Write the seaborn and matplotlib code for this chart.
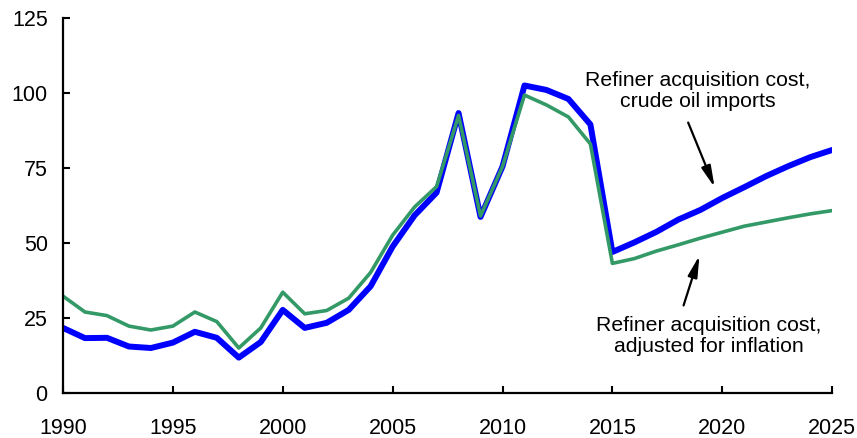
import matplotlib
matplotlib.use("Agg")
import matplotlib.pyplot as plt
import seaborn as sns
import pandas as pd

# Data
years = list(range(1990, 2026))
nominal = [21.7, 18.3, 18.4, 15.5, 15.0, 16.8, 20.4, 18.4, 11.8, 17.0,
           27.7, 21.7, 23.4, 27.7, 35.6, 48.8, 59.2, 66.8, 93.3, 58.7,
           75.5, 102.5, 101.0, 98.0, 89.5, 47.0, 50.2, 53.7, 57.8, 61.0,
           65.0, 68.6, 72.3, 75.6, 78.6, 81.0]
real = [32.3, 27.0, 25.8, 22.3, 21.0, 22.3, 27.0, 23.8, 15.0, 21.7,
        33.6, 26.4, 27.5, 31.6, 40.2, 52.6, 62.0, 68.8, 92.5, 59.0,
        75.5, 99.3, 96.0, 92.0, 83.0, 43.2, 44.8, 47.3, 49.4, 51.6,
        53.6, 55.6, 57.0, 58.4, 59.7, 60.8]

df = pd.DataFrame({"year": years, "nominal": nominal, "real": real})

sns.set_style("ticks")
plt.rcParams["font.family"] = ["Liberation Sans", "DejaVu Sans"]
plt.rcParams["text.color"] = "black"

fig = plt.figure(figsize=(8.57, 4.38), dpi=100)
ax = fig.add_axes([0.0735, 0.1027, 0.8975, 0.8563])

sns.lineplot(data=df, x="year", y="nominal", color="#0000FF", linewidth=4.3, ax=ax)
sns.lineplot(data=df, x="year", y="real", color="#339966", linewidth=2.6, ax=ax)

ax.set_xlim(1990, 2025)
ax.set_ylim(0, 125)
ax.set_xticks(range(1990, 2026, 5))
ax.set_yticks(range(0, 126, 25))
ax.set_xlabel("")
ax.set_ylabel("")
ax.tick_params(direction="in", length=5, width=1.5, labelsize=15.5, colors="black")
ax.tick_params(axis="x", pad=18)
ax.tick_params(axis="y", pad=11)
sns.despine(ax=ax)
for s in ["left", "bottom"]:
    ax.spines[s].set_linewidth(1.6)
    ax.spines[s].set_color("black")

arrow = dict(arrowstyle="-|>,head_length=0.8,head_width=0.18", color="black", lw=1.6,
             mutation_scale=16)
ax.annotate("", xy=(2019.7, 67.7), xytext=(2018.4, 91.0), arrowprops=arrow)
ax.text(2018.9, 100.7, "Refiner acquisition cost,\ncrude oil imports", ha="center", va="center",
        fontsize=15.3, linespacing=1.15)
ax.annotate("", xy=(2019.0, 46.7), xytext=(2018.2, 28.3), arrowprops=arrow)
ax.text(2019.4, 19.0, "Refiner acquisition cost,\nadjusted for inflation", ha="center", va="center",
        fontsize=15.3, linespacing=1.15)

fig.savefig("out.png", dpi=100)
